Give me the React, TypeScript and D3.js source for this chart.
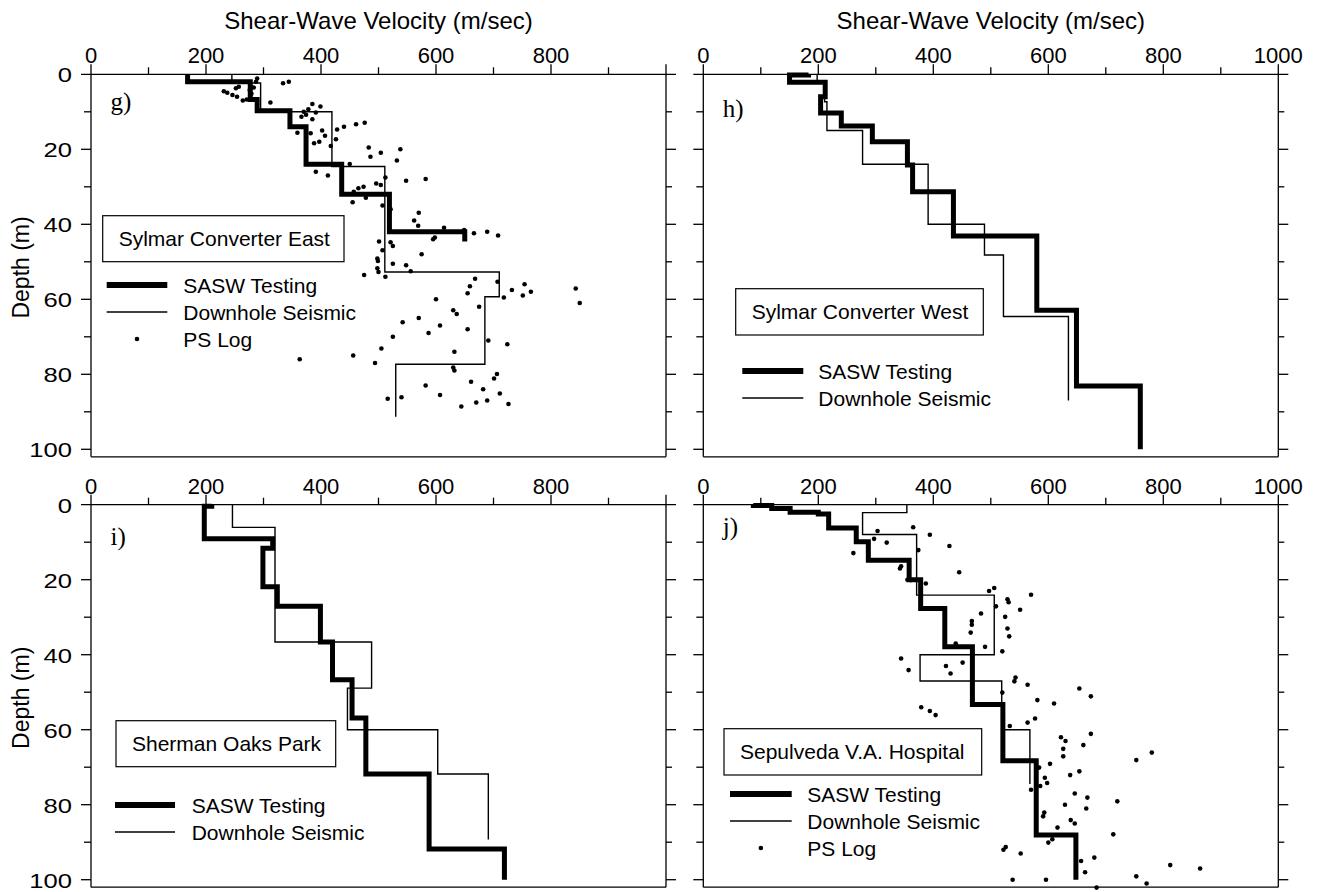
import React from 'react';
import * as d3 from 'd3';

// ---------- axis values ----------
const velocityDomain = [0, 1000];
const depthDomain = [0, 100];
const velocityTicks = [0, 100, 200, 300, 400, 500, 600, 700, 800, 900, 1000];
const depthTicks = [0, 10, 20, 30, 40, 50, 60, 70, 80, 90, 100];
const leftVelocityLabels = [0, 200, 400, 600, 800];
const rightVelocityLabels = [0, 200, 400, 600, 800, 1000];
const depthLabels = [0, 20, 40, 60, 80, 100];

// ---------- g) Sylmar Converter East ----------
const gSaswVel = [168, 277, 289, 346, 374, 436, 519, 650];
const gSaswDepth = [0, 2, 6.7, 9.7, 14, 24, 32, 42, 44.6];
const gDownVel = [245, 295, 419, 511, 710, 685, 530];
const gDownDepth = [0, 2.3, 10, 24.6, 52.7, 59.3, 77.3, 91.3];
const gPsLog = [
  [289, 1.1], [287, 2.0], [334, 2.4], [344, 2.0], [231, 4.5], [237, 4.9], [246, 5.5], [254, 6.0],
  [252, 3.7], [257, 3.3], [264, 7.0], [271, 6.7], [279, 5.2], [276, 4.2], [283, 3.5], [312, 7.5],
  [385, 7.9], [399, 8.6], [378, 9.3], [370, 10.0], [366, 11.3], [374, 10.8], [391, 10.2], [385, 12.0],
  [359, 15.6], [382, 15.7], [402, 15.0], [407, 16.4], [388, 18.4], [397, 18.0], [417, 19.1], [428, 14.7],
  [440, 14.0], [461, 13.3], [476, 12.9], [426, 17.3], [483, 19.5], [486, 22.0], [504, 20.9], [538, 20.0],
  [532, 23.0], [548, 28.4], [450, 23.9], [391, 26.0], [412, 27.0], [465, 30.4], [474, 30.0], [457, 31.3],
  [478, 32.9], [455, 34.1], [496, 29.1], [504, 29.5], [507, 35.0], [512, 27.5], [521, 36.0], [501, 44.6],
  [521, 44.8], [525, 45.8],
  [582, 27.9], [570, 36.9], [562, 39.0], [569, 40.4], [614, 40.9], [598, 43.5], [595, 44.0], [649, 41.5],
  [666, 42.4], [689, 42.0], [708, 43.0], [575, 48.0], [507, 46.9], [498, 49.1], [499, 49.8], [498, 51.7],
  [500, 52.7], [525, 50.5], [548, 50.9], [556, 52.5], [475, 53.5], [512, 54.0], [668, 54.5], [659, 56.5],
  [655, 58.4], [707, 55.3], [732, 57.5], [754, 56.0], [751, 59.0], [765, 58.0], [718, 59.5], [843, 57.1],
  [850, 61.0], [600, 60.0], [675, 62.0], [630, 62.9], [636, 63.9], [570, 65.0], [542, 66.1], [607, 67.0],
  [587, 69.0], [655, 68.0], [525, 70.0], [691, 71.0], [724, 72.0], [505, 73.1], [632, 74.0], [456, 75.0],
  [363, 76.0], [494, 77.0], [630, 78.2], [632, 79.0], [706, 79.9], [701, 81.1], [661, 82.0], [582, 83.0],
  [682, 84.0], [711, 85.1], [607, 85.5], [540, 86.1], [516, 86.5], [670, 87.5], [689, 87.0], [644, 88.6],
  [726, 87.9],
];

// ---------- h) Sylmar Converter West ----------
const hSaswVel = [183, 150, 212, 204, 240, 294, 355, 364, 435, 580, 649, 760];
const hSaswDepth = [0, 0.2, 2.1, 6, 10.3, 13.8, 18, 24.2, 31.3, 43.1, 62.9, 83.1, 100];
const hDownVel = [198, 211, 215, 277, 391, 489, 522, 635];
const hDownDepth = [0, 2.3, 7.3, 15, 24, 40, 48.2, 64.6, 87];

// ---------- i) Sherman Oaks Park ----------
const iSaswVel = [210, 197, 316, 299, 324, 399, 420, 454, 478, 588, 719];
const iSaswDepth = [0, 0.4, 9.1, 11.6, 21.9, 27.1, 36.6, 46.7, 56.9, 71.8, 91.8, 100];
const iDownVel = [246, 320, 488, 446, 603, 691];
const iDownDepth = [0, 6.05, 36.6, 48.9, 60, 71.8, 89.3];

// ---------- j) Sepulveda V.A. Hospital ----------
const jSaswVel = [87, 119, 151, 200, 218, 266, 287, 358, 378, 420, 468, 521, 579, 648];
const jSaswDepth = [0, 0.2, 1.0, 2.0, 2.5, 6.2, 9.9, 14.8, 20, 27.7, 37.9, 53.3, 68.3, 88.1, 100];
const jDownVel = [354, 277, 371, 506, 377, 519, 568];
const jDownDepth = [0, 2.1, 7.95, 24.1, 40, 47, 60, 74.5];
const jPsLog = [
  [303, 7.0], [365, 6.0], [394, 8.0], [297, 9.1], [319, 10.1], [374, 12.1], [428, 11.0], [261, 12.9],
  [342, 17.0], [344, 16.4], [445, 18.0], [355, 20.0], [361, 20.1], [387, 21.0], [497, 23.0], [506, 22.2],
  [529, 25.2], [531, 26.0], [570, 24.0], [509, 27.1], [551, 28.0], [483, 29.0], [467, 31.0], [467, 32.0],
  [465, 34.1], [525, 29.9], [529, 33.0], [532, 35.1], [439, 37.0], [490, 37.9], [520, 39.1], [344, 41.0],
  [357, 44.1], [422, 43.0], [430, 45.0], [451, 42.1], [543, 46.1], [541, 47.1], [564, 48.0], [520, 50.1],
  [654, 49.0], [674, 51.1], [581, 52.1], [610, 53.0], [379, 54.0], [394, 55.0], [404, 56.1], [533, 59.0],
  [564, 58.1], [577, 57.0], [622, 62.0], [630, 63.0], [674, 61.1], [661, 64.1], [626, 65.1], [626, 67.1],
  [780, 66.1], [753, 68.1], [584, 70.1], [603, 69.1], [654, 71.1], [638, 72.1], [594, 72.8], [598, 74.2],
  [586, 75.0], [570, 76.0], [646, 77.0], [668, 78.1], [629, 80.0], [720, 79.1], [666, 81.0], [593, 82.1],
  [591, 83.1], [639, 84.1], [646, 85.0], [616, 86.1], [713, 87.9], [607, 89.2], [600, 90.1], [526, 91.3],
  [522, 92.0], [552, 93.0], [657, 95.0], [680, 94.1], [664, 98.0], [812, 96.1], [864, 97.0], [538, 100.0],
  [596, 100.0], [753, 99.1], [771, 101.0], [684, 102.1],
];

const sansFont = "'Liberation Sans', Arial, Helvetica, sans-serif";
const serifFont = "'Liberation Serif', 'Times New Roman', serif";

type Profile = { vel: number[]; depth: number[] };
type PanelDef = {
  key: string;
  letter: string;
  site: string;
  x0: number;
  y0: number;
  sasw: Profile;
  down: Profile;
  ps?: number[][];
  xLabels: number[];
  yLabels: boolean;
  title: boolean;
  letterY: number;
  legend: { bx: number; by: number; bw: number; bh: number; lx0: number; lx1: number; ly: number; tx: number };
};

const panels: PanelDef[] = [
  {
    key: 'g', letter: 'g)', site: 'Sylmar Converter East', x0: 91, y0: 74.3,
    sasw: { vel: gSaswVel, depth: gSaswDepth }, down: { vel: gDownVel, depth: gDownDepth }, ps: gPsLog,
    xLabels: leftVelocityLabels, yLabels: true, title: true, letterY: 36,
    legend: { bx: 11.7, by: 141.4, bw: 241.3, bh: 46, lx0: 15.7, lx1: 76.3, ly: 210.7, tx: 92.3 },
  },
  {
    key: 'h', letter: 'h)', site: 'Sylmar Converter West', x0: 703.3, y0: 74.3,
    sasw: { vel: hSaswVel, depth: hSaswDepth }, down: { vel: hDownVel, depth: hDownDepth },
    xLabels: rightVelocityLabels, yLabels: false, title: true, letterY: 42.4,
    legend: { bx: 32.4, by: 214.4, bw: 247.6, bh: 46.3, lx0: 39, lx1: 100, ly: 296.7, tx: 115 },
  },
  {
    key: 'i', letter: 'i)', site: 'Sherman Oaks Park', x0: 91, y0: 504.7,
    sasw: { vel: iSaswVel, depth: iSaswDepth }, down: { vel: iDownVel, depth: iDownDepth },
    xLabels: leftVelocityLabels, yLabels: true, title: false, letterY: 40.3,
    legend: { bx: 25, by: 216, bw: 219.7, bh: 46, lx0: 24, lx1: 84, ly: 300.3, tx: 100.7 },
  },
  {
    key: 'j', letter: 'j)', site: 'Sepulveda V.A. Hospital', x0: 703.3, y0: 504.7,
    sasw: { vel: jSaswVel, depth: jSaswDepth }, down: { vel: jDownVel, depth: jDownDepth }, ps: jPsLog,
    xLabels: rightVelocityLabels, yLabels: false, title: false, letterY: 30.3,
    legend: { bx: 20.7, by: 224, bw: 257.7, bh: 46.3, lx0: 26.7, lx1: 88.4, ly: 289.3, tx: 104 },
  },
];

const PANEL_W = 575;
const PANEL_H = 375;

function stepPoints(p: Profile): [number, number][] {
  const pts: [number, number][] = [];
  p.vel.forEach((v, i) => {
    pts.push([v, p.depth[i]]);
    pts.push([v, p.depth[i + 1]]);
  });
  return pts;
}

function Panel({ def }: { def: PanelDef }) {
  const x = d3.scaleLinear().domain(velocityDomain).range([def.x0, def.x0 + PANEL_W]);
  const y = d3.scaleLinear().domain(depthDomain).range([def.y0, def.y0 + PANEL_H]);
  const xl = x(0);
  const xr = x(1000);
  const yt = y(0);
  const yb = y(102);
  const line = d3
    .line<[number, number]>()
    .x((p) => x(p[0]))
    .y((p) => y(p[1]));
  const axisW = 1.3;
  const lg = def.legend;
  const lx = (v: number) => def.x0 + v;
  const ly = (v: number) => def.y0 + v;
  const entries = def.ps
    ? ['SASW Testing', 'Downhole Seismic', 'PS Log']
    : ['SASW Testing', 'Downhole Seismic'];
  const step = 27;
  return (
    <g>
      {/* frame */}
      <line x1={xl - 10} x2={xr + 10} y1={yt} y2={yt} stroke="#000" strokeWidth={axisW} />
      <line x1={xl} x2={xl} y1={yt - 10} y2={yb} stroke="#000" strokeWidth={axisW} />
      <line x1={xr} x2={xr} y1={yt - 10} y2={yb} stroke="#000" strokeWidth={axisW} />
      <line x1={xl} x2={xr} y1={yb} y2={yb} stroke="#000" strokeWidth={axisW} />
      {/* x ticks */}
      {velocityTicks.slice(1, -1).map((t) => (
        <line key={'xt' + t} x1={x(t)} x2={x(t)} y1={yt} y2={yt - (t % 200 === 0 ? 10 : 7)} stroke="#000" strokeWidth={axisW} />
      ))}
      {/* y ticks */}
      {depthTicks.slice(1).map((t) => {
        const len = t % 20 === 0 ? 10 : 7;
        return (
          <g key={'yt' + t}>
            <line x1={xl} x2={xl - len} y1={y(t)} y2={y(t)} stroke="#000" strokeWidth={axisW} />
            <line x1={xr} x2={xr + (t % 20 === 0 ? 10 : 6)} y1={y(t)} y2={y(t)} stroke="#000" strokeWidth={axisW} />
          </g>
        );
      })}
      {/* x tick labels */}
      {def.xLabels.map((t) => (
        <text key={'xl' + t} x={x(t)} y={yt - 11} textAnchor="middle" fontSize={22} fontFamily={sansFont} fill="#000">
          {t}
        </text>
      ))}
      {/* y tick labels */}
      {def.yLabels &&
        depthLabels.map((t) => (
          <text
            key={'yl' + t}
            transform={`translate(${xl - 19},${y(t) + 7.8}) scale(1.22,1)`}
            textAnchor="end"
            fontSize={21}
            fontFamily={sansFont}
            fill="#000"
          >
            {t}
          </text>
        ))}
      {def.yLabels && (
        <text
          transform={`translate(28.5,${y(51.5)}) rotate(-90)`}
          textAnchor="middle"
          fontSize={23}
          fontFamily={sansFont}
          fill="#000"
        >
          Depth (m)
        </text>
      )}
      {def.title && (
        <text x={(xl + xr) / 2} y={29.3} textAnchor="middle" fontSize={24} fontFamily={sansFont} fill="#000">
          Shear-Wave Velocity (m/sec)
        </text>
      )}
      {/* panel letter */}
      <text x={xl + 19.5} y={yt + def.letterY} fontSize={25} fontFamily={serifFont} fill="#000">
        {def.letter}
      </text>
      {/* data */}
      <path d={line(stepPoints(def.down)) || ''} fill="none" stroke="#000" strokeWidth={1.4} strokeLinejoin="miter" />
      <path d={line(stepPoints(def.sasw)) || ''} fill="none" stroke="#000" strokeWidth={5} strokeLinejoin="miter" strokeLinecap="butt" />
      {def.ps &&
        def.ps.map((p, i) => <circle key={'ps' + i} cx={x(p[0])} cy={y(p[1])} r={2.3} fill="#000" />)}
      {/* legend */}
      <rect x={lx(lg.bx)} y={ly(lg.by)} width={lg.bw} height={lg.bh} fill="#fff" stroke="#000" strokeWidth={1.2} />
      <text x={lx(lg.bx + 16)} y={ly(lg.by + lg.bh / 2 + 7.6)} fontSize={21} fontFamily={sansFont} fill="#000">
        {def.site}
      </text>
      {entries.map((e, i) => {
        const yy = ly(lg.ly + i * step);
        return (
          <g key={e}>
            {i === 0 && <line x1={lx(lg.lx0)} x2={lx(lg.lx1)} y1={yy} y2={yy} stroke="#000" strokeWidth={6} />}
            {i === 1 && <line x1={lx(lg.lx0)} x2={lx(lg.lx1)} y1={yy} y2={yy} stroke="#000" strokeWidth={1.4} />}
            {i === 2 && <circle cx={lx((lg.lx0 + lg.lx1) / 2)} cy={yy} r={2.3} fill="#000" />}
            <text x={lx(lg.tx)} y={yy + 7.6} fontSize={21} fontFamily={sansFont} fill="#000">
              {e}
            </text>
          </g>
        );
      })}
    </g>
  );
}

export default function App() {
  return (
    <svg
      width={1317}
      height={892}
      viewBox="0 0 1317 892"
      style={{ position: 'absolute', left: 0, top: 0, background: '#fff' }}
    >
      <rect x={0} y={0} width={1317} height={892} fill="#fff" />
      {panels.map((p) => (
        <Panel key={p.key} def={p} />
      ))}
    </svg>
  );
}
